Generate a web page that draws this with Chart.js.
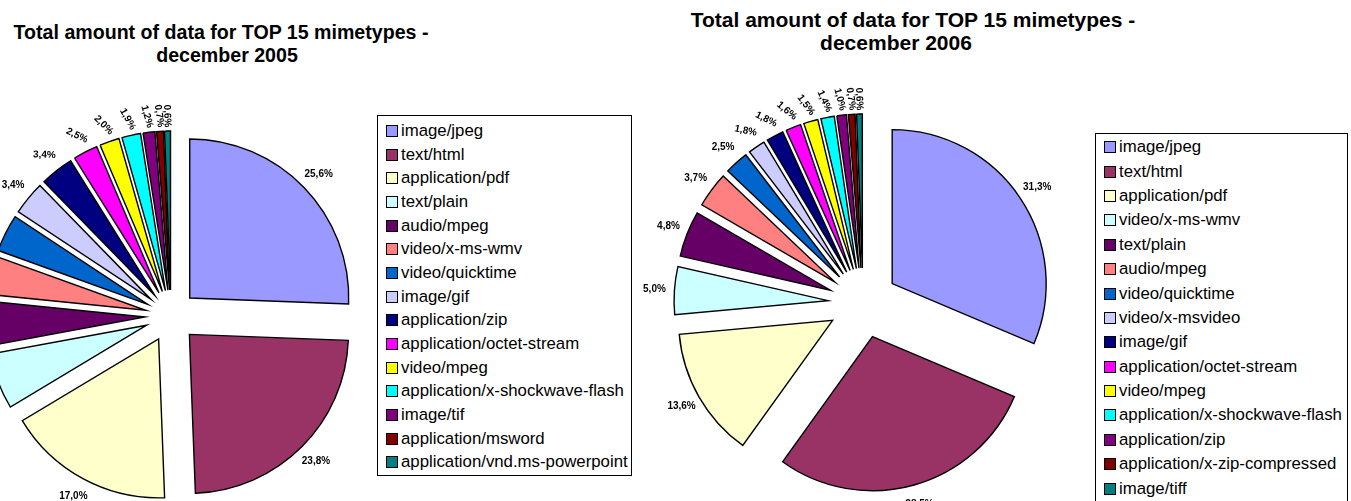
<!DOCTYPE html>
<html lang="en">
<head>
  <meta charset="UTF-8" />
  <title>Top 15 mimetypes</title>
  <script src="https://cdn.jsdelivr.net/npm/chart.js"></script>
  <style>
    html, body {
      margin: 0;
      padding: 0;
      width: 1351px;
      height: 501px;
      overflow: hidden;
      background: #fff;
      font-family: "Liberation Sans", Arial, Helvetica, sans-serif;
    }
    canvas { position: absolute; }
    .title {
      position: absolute;
      transform: translateX(-50%);
      white-space: nowrap;
      font-weight: bold;
      line-height: 1;
      color: #000;
    }
    .legend {
      position: absolute;
      border: 1px solid #000;
      background: #fff;
      box-sizing: border-box;
    }
    .legend .row {
      display: flex;
      align-items: center;
      white-space: nowrap;
      color: #000;
    }
    .legend .sw {
      width: 10px;
      height: 10px;
      border: 1px solid #000;
      margin-right: 3px;
      flex: none;
    }
  </style>
</head>
<body>

  <div class="title" style="left:221px; top:23px; font-size:19.6px;">Total amount of data for TOP 15 mimetypes -</div>
  <div class="title" style="left:227px; top:46px; font-size:19.6px;">december 2005</div>
  <div class="title" style="left:913px; top:9px; font-size:21px;">Total amount of data for TOP 15 mimetypes -</div>
  <div class="title" style="left:896px; top:32px; font-size:21px;">december 2006</div>

  <canvas id="pie2005" width="500" height="500" style="left:-79px; top:66px;"></canvas>
  <canvas id="pie2006" width="500" height="500" style="left:613px; top:53px;"></canvas>

  <div id="legend2005" class="legend" style="left:377px; top:115px; width:255px; height:361px; padding:3px 0 0 8px;"></div>
  <div id="legend2006" class="legend" style="left:1095px; top:133px; width:253px; height:380px; padding:1px 0 0 8px;"></div>

  <script>
    // share of total data (%) per mimetype
    const labels2005 = [
      'image/jpeg', 'text/html', 'application/pdf', 'text/plain', 'audio/mpeg',
      'video/x-ms-wmv', 'video/quicktime', 'image/gif', 'application/zip',
      'application/octet-stream', 'video/mpeg', 'application/x-shockwave-flash',
      'image/tif', 'application/msword', 'application/vnd.ms-powerpoint'
    ];
    const share2005 = [25.6, 23.8, 17.0, 5.7, 4.5, 3.9, 3.8, 3.4, 3.4, 2.5, 2.0, 1.9, 1.2, 0.7, 0.6];

    const labels2006 = [
      'image/jpeg', 'text/html', 'application/pdf', 'video/x-ms-wmv', 'text/plain',
      'audio/mpeg', 'video/quicktime', 'video/x-msvideo', 'image/gif',
      'application/octet-stream', 'video/mpeg', 'application/x-shockwave-flash',
      'application/zip', 'application/x-zip-compressed', 'image/tiff'
    ];
    const share2006 = [31.3, 28.5, 13.6, 5.0, 4.8, 3.7, 2.5, 1.8, 1.8, 1.6, 1.5, 1.4, 1.0, 0.7, 0.6];

    const palette = [
      '#9999FF', '#993366', '#FFFFCC', '#CCFFFF', '#660066',
      '#FF8080', '#0066CC', '#CCCCFF', '#000080', '#FF00FF',
      '#FFFF00', '#00FFFF', '#800080', '#800000', '#008080'
    ];

    // exploded slices + outside percentage labels
    const explodePlugin = {
      id: 'explode',
      beforeDatasetDraw(chart, args, opts) {
        const ctx = chart.ctx;
        args.meta.data.forEach(arc => {
          const mid = (arc.startAngle + arc.endAngle) / 2;
          ctx.save();
          ctx.translate(Math.cos(mid) * opts.distance, Math.sin(mid) * opts.distance);
          arc.draw(ctx);
          ctx.restore();
        });
        return false;
      },
      afterDatasetsDraw(chart, args, opts) {
        const ctx = chart.ctx;
        const meta = chart.getDatasetMeta(0);
        const values = chart.data.datasets[0].data;
        ctx.save();
        ctx.font = 'bold 10px "Liberation Sans", Arial, sans-serif';
        ctx.fillStyle = '#000';
        ctx.textAlign = 'center';
        ctx.textBaseline = 'middle';
        meta.data.forEach((arc, i) => {
          const mid = (arc.startAngle + arc.endAngle) / 2;
          let fromTop = (mid + Math.PI / 2) * 180 / Math.PI;
          fromTop = ((fromTop % 360) + 360) % 360;
          let rot = 0;
          if (fromTop > 270) {
            rot = Math.max(0, Math.min(90, 90 - (360 - fromTop) * 2.3));
          }
          const dist = opts.distance + arc.outerRadius + 20 - 5 * rot / 90;
          const x = arc.x + Math.cos(mid) * dist;
          const y = arc.y + Math.sin(mid) * dist;
          const txt = values[i].toFixed(1).replace('.', ',') + '%';
          ctx.save();
          ctx.translate(x, y);
          ctx.rotate(rot * Math.PI / 180);
          ctx.fillText(txt, 0, 0);
          ctx.restore();
        });
        ctx.restore();
      }
    };

    function drawPie(id, labels, values, radius, distance) {
      new Chart(document.getElementById(id), {
        type: 'pie',
        data: {
          labels: labels,
          datasets: [{
            data: values,
            backgroundColor: palette,
            borderColor: '#000',
            borderWidth: 1.4,
            borderJoinStyle: 'miter',
            radius: radius
          }]
        },
        options: {
          responsive: false,
          animation: false,
          layout: { padding: 0 },
          plugins: {
            legend: { display: false },
            tooltip: { enabled: false },
            explode: { distance: distance }
          }
        },
        plugins: [explodePlugin]
      });
    }

    function buildLegend(id, labels, rowHeight, fontSize) {
      const box = document.getElementById(id);
      labels.forEach((label, i) => {
        const row = document.createElement('div');
        row.className = 'row';
        row.style.height = rowHeight + 'px';
        row.style.fontSize = fontSize + 'px';
        row.innerHTML = `<span class="sw" style="background:${palette[i]}"></span><span>${label}</span>`;
        box.appendChild(row);
      });
    }

    drawPie('pie2005', labels2005, share2005, 159, 26);
    drawPie('pie2006', labels2006, share2006, 154, 35);
    buildLegend('legend2005', labels2005, 23.7, 16.8);
    buildLegend('legend2006', labels2006, 24.4, 16.8);
  </script>
</body>
</html>
